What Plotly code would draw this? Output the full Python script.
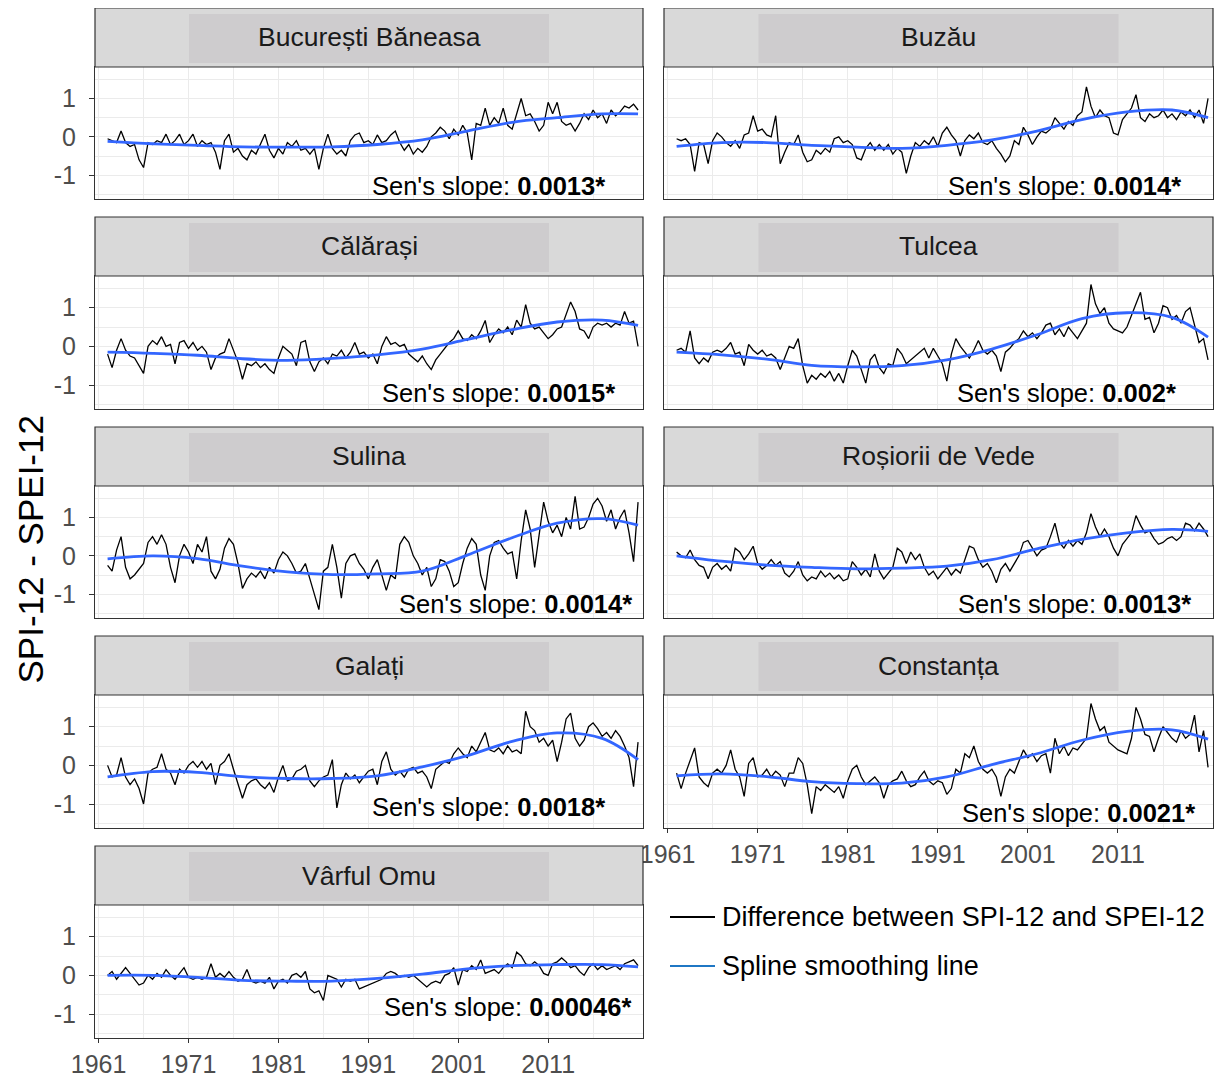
import numpy as np
import plotly.graph_objects as go

# the page puts the figure 8px in from the top-left corner
OFF = 8
W, H = 1225 - 2 * OFF, 1082 - OFF

stations = ["București Băneasa", "Buzău", "Călărași", "Tulcea", "Sulina",
            "Roșiorii de Vede", "Galați", "Constanța", "Vârful Omu"]
slopes = ["0.0013*", "0.0014*", "0.0015*", "0.002*", "0.0014*",
          "0.0013*", "0.0018*", "0.0021*", "0.00046*"]

# half-yearly readings of SPI-12 minus SPEI-12, Jan 1962 .. Jan 2021
years = 1962 + 0.5 * np.arange(119)
# knots of the spline smoothing line
knot_years = [1962, 1967, 1972, 1977, 1982, 1987, 1992, 1997, 2002, 2007, 2012, 2017, 2021]
tick_years = [1961, 1971, 1981, 1991, 2001, 2011]
minor_years = [1966, 1976, 1986, 1996, 2006, 2016]

diff_bucuresti = [
    -0.05, -0.1, -0.15, 0.15, -0.15, -0.25, -0.2, -0.6, -0.8, -0.15,
    -0.2, -0.1, -0.15, 0.07, -0.2, -0.1, 0.07, -0.2, -0.1, 0.07,
    -0.25, -0.1, -0.2, -0.15, -0.4, -0.85, -0.1, 0.07, -0.4, -0.3,
    -0.5, -0.6, -0.35, -0.45, -0.2, 0.07, -0.35, -0.55, -0.3, -0.45,
    -0.15, -0.25, -0.1, -0.35, -0.3, -0.45, -0.3, -0.85, -0.3, 0.07,
    -0.3, -0.45, -0.35, -0.5, -0.1, 0.05, 0.1, -0.15, -0.1, -0.2,
    0.05, -0.15, -0.1, 0.05, 0.15, -0.15, -0.35, -0.2, -0.45, -0.3,
    -0.4, -0.25, 0.0, 0.1, 0.25, 0.15, -0.05, 0.2, 0.05, 0.3,
    0.1, -0.6, 0.35, 0.3, 0.75, 0.3, 0.5, 0.35, 0.75, 0.3,
    0.2, 0.6, 1.0, 0.55, 0.6, 0.4, 0.15, 0.3, 0.9, 0.6,
    0.9, 0.4, 0.3, 0.35, 0.15, 0.35, 0.6, 0.45, 0.7, 0.5,
    0.6, 0.35, 0.7, 0.55, 0.65, 0.8, 0.75, 0.85, 0.7]
diff_buzau = [
    -0.05, -0.1, -0.05, -0.2, -0.9, -0.15, -0.2, -0.7, -0.1, 0.1,
    0.0, -0.15, -0.25, -0.1, -0.3, 0.05, 0.1, 0.55, 0.15, 0.2,
    0.05, 0.0, 0.55, -0.7, -0.4, -0.15, -0.2, 0.05, -0.4, -0.65,
    -0.6, -0.35, -0.45, -0.3, -0.4, -0.05, 0.0, -0.15, -0.1, -0.2,
    -0.55, -0.6, -0.3, -0.15, -0.35, -0.2, -0.35, -0.2, -0.45, -0.3,
    -0.4, -0.95, -0.5, -0.15, -0.25, -0.1, -0.2, 0.0, -0.25, 0.1,
    0.25, 0.05, -0.1, -0.5, -0.1, 0.05, -0.05, 0.1, -0.15, -0.2,
    -0.1, -0.3, -0.45, -0.65, -0.5, -0.1, -0.2, 0.25, 0.05, -0.2,
    0.0, 0.15, 0.1, 0.2, 0.5, 0.35, 0.2, 0.4, 0.3, 0.55,
    0.65, 1.3, 0.8, 0.5, 0.7, 0.55, 0.5, 0.1, 0.05, 0.45,
    0.6, 0.75, 1.1, 0.5, 0.4, 0.6, 0.5, 0.55, 0.7, 0.5,
    0.6, 0.45, 0.65, 0.55, 0.7, 0.5, 0.7, 0.35, 1.0]
diff_calarasi = [
    -0.2, -0.55, -0.1, 0.2, -0.1, -0.25, -0.3, -0.5, -0.7, 0.0,
    0.15, 0.05, 0.25, 0.0, 0.05, -0.45, 0.1, 0.15, -0.05, 0.1,
    -0.1, 0.0, -0.15, -0.6, -0.3, -0.2, -0.15, 0.2, -0.1, -0.4,
    -0.85, -0.45, -0.5, -0.4, -0.55, -0.45, -0.6, -0.7, -0.3, 0.0,
    -0.1, -0.2, -0.5, 0.1, 0.15, -0.4, -0.65, -0.4, -0.3, -0.45,
    -0.2, -0.25, -0.1, -0.3, -0.15, 0.1, -0.2, -0.15, -0.3, -0.2,
    -0.45, 0.0, 0.25, 0.05, 0.1, 0.0, 0.05, -0.2, -0.3, -0.4,
    -0.25, -0.45, -0.6, -0.35, -0.2, -0.05, 0.1, 0.2, 0.4, 0.2,
    0.15, 0.3, 0.2, 0.4, 0.67, 0.1, 0.3, 0.45, 0.35, 0.5,
    0.3, 0.68, 0.5, 1.08, 0.6, 0.45, 0.5, 0.35, 0.2, 0.3,
    0.45, 0.5, 0.8, 1.15, 0.9, 0.45, 0.4, 0.2, 0.5, 0.6,
    0.55, 0.6, 0.5, 0.6, 0.55, 0.9, 0.6, 0.65, 0.0]
diff_tulcea = [
    -0.1, -0.05, -0.15, 0.4, -0.3, -0.45, -0.3, -0.4, -0.15, -0.1,
    -0.15, -0.05, 0.1, -0.2, -0.15, -0.5, 0.05, -0.1, -0.2, -0.1,
    -0.25, -0.2, -0.3, -0.6, -0.3, 0.0, -0.05, 0.2, -0.5, -0.95,
    -0.75, -0.85, -0.7, -0.8, -0.65, -0.9, -0.7, -0.95, -0.5, -0.1,
    -0.25, -0.6, -0.95, -0.35, -0.2, -0.55, -0.7, -0.45, -0.5, -0.05,
    -0.2, -0.45, -0.35, -0.25, -0.15, -0.05, -0.3, -0.05, -0.25, -0.45,
    -0.9, -0.2, 0.2, 0.0, -0.15, -0.3, -0.1, 0.15, -0.1, -0.2,
    -0.1, -0.25, -0.65, -0.15, -0.05, 0.1, 0.2, 0.4, 0.25, 0.35,
    0.2, 0.35, 0.55, 0.6, 0.3, 0.45, 0.25, 0.5, 0.35, 0.2,
    0.4, 0.6, 1.6, 1.1, 0.85, 1.0, 0.6, 0.45, 0.4, 0.35,
    0.5, 0.8, 1.1, 1.4, 0.7, 0.75, 0.35, 0.6, 1.05, 1.0,
    0.7, 0.8, 0.6, 0.9, 1.0, 0.55, 0.1, 0.2, -0.35]
diff_sulina = [
    -0.25, -0.4, 0.15, 0.5, -0.3, -0.6, -0.5, -0.35, -0.2, 0.35,
    0.5, 0.3, 0.55, 0.3, -0.3, -0.7, 0.0, 0.3, 0.1, -0.2,
    0.3, 0.1, 0.5, -0.4, -0.6, -0.35, 0.2, 0.45, 0.3, -0.2,
    -0.85, -0.6, -0.45, -0.55, -0.4, -0.6, -0.3, -0.45, -0.1, 0.1,
    0.0, -0.2, -0.45, -0.4, -0.2, -0.6, -1.0, -1.4, -0.4, -0.3,
    0.3, -0.3, -1.1, -0.2, 0.0, 0.05, -0.2, -0.35, -0.6, -0.3,
    -0.1, -0.5, -0.9, -0.5, -0.6, 0.3, 0.5, 0.35, 0.0, -0.2,
    -0.5, -0.3, -0.8, -0.6, -0.1, -0.15, -0.4, -0.8, -0.7, -0.2,
    0.2, 0.45, 0.3, -0.5, -0.9, 0.0, 0.35, 0.4, 0.2, 0.05,
    0.1, -0.6, 0.4, 1.2, 0.7, -0.3, 0.6, 1.4, 0.9, 0.6,
    0.8, 0.5, 1.0, 0.7, 1.55, 0.7, 0.75, 1.0, 1.35, 1.5,
    1.3, 0.9, 1.2, 0.7, 1.0, 1.2, 0.6, -0.15, 1.4]
diff_rosiorii = [
    0.1, 0.0, -0.05, 0.15, -0.1, -0.25, -0.3, -0.6, -0.3, -0.2,
    -0.35, -0.25, -0.4, 0.2, 0.1, -0.1, 0.05, 0.25, -0.2, -0.35,
    -0.25, -0.1, -0.25, -0.15, -0.45, -0.55, -0.4, -0.15, -0.5, -0.65,
    -0.55, -0.6, -0.4, -0.55, -0.45, -0.6, -0.5, -0.65, -0.6, -0.15,
    -0.3, -0.5, -0.35, -0.55, 0.05, -0.4, -0.6, -0.45, -0.3, 0.2,
    0.1, -0.2, 0.1, -0.1, 0.05, -0.3, -0.5, -0.4, -0.6, -0.45,
    -0.3, -0.5, -0.35, -0.45, -0.1, 0.25, 0.2, -0.1, -0.3, -0.2,
    -0.4, -0.7, -0.35, -0.2, -0.4, -0.2, 0.0, 0.35, 0.4, 0.2,
    0.0, 0.15, 0.2, 0.5, 0.85, 0.35, 0.2, 0.4, 0.25, 0.4,
    0.3, 0.6, 1.1, 0.75, 0.5, 0.7, 0.5, 0.2, 0.0, 0.3,
    0.45, 0.6, 1.05, 0.8, 0.6, 0.65, 0.45, 0.3, 0.35, 0.45,
    0.5, 0.4, 0.5, 0.85, 0.8, 0.65, 0.85, 0.7, 0.5]
diff_galati = [
    0.0, -0.3, -0.25, 0.2, -0.3, -0.5, -0.35, -0.6, -1.0, -0.2,
    -0.1, -0.05, 0.3, -0.1, -0.2, -0.5, -0.1, -0.2, 0.0, 0.1,
    -0.05, 0.1, -0.1, 0.05, -0.5, 0.0, 0.1, 0.3, -0.1, -0.5,
    -0.85, -0.5, -0.4, -0.35, -0.5, -0.6, -0.45, -0.7, -0.3, 0.0,
    -0.4, -0.35, -0.15, -0.1, 0.0, -0.4, -0.55, -0.4, -0.3, -0.25,
    0.15, -1.1, -0.5, -0.2, -0.35, -0.25, -0.45, -0.3, -0.15, -0.1,
    -0.5, 0.1, 0.35, -0.1, -0.25, -0.15, -0.3, -0.1, -0.05, -0.2,
    -0.15, -0.3, -0.6, -0.1, 0.0, 0.1, 0.05, 0.3, 0.45, 0.3,
    0.2, 0.5, 0.35, 0.6, 0.85, 0.4, 0.35, 0.45, 0.3, 0.5,
    0.35, 0.4, 0.3, 1.4, 1.0, 0.9, 0.6, 0.7, 0.5, 0.65,
    0.1, 0.6, 1.2, 1.35, 0.7, 0.5, 0.65, 1.0, 1.1, 0.95,
    0.75, 0.85, 0.7, 0.9, 0.75, 0.5, 0.2, -0.55, 0.6]
diff_constanta = [
    -0.2, -0.6, -0.2, 0.1, 0.45, -0.3, -0.45, -0.55, -0.2, -0.1,
    -0.2, 0.0, 0.4, -0.1, -0.3, -0.8, 0.05, 0.2, -0.3, -0.25,
    -0.1, -0.3, -0.15, -0.25, -0.55, -0.2, -0.2, 0.2, 0.05, -0.5,
    -1.25, -0.55, -0.65, -0.5, -0.6, -0.7, -0.55, -0.85, -0.4, -0.1,
    0.0, -0.3, -0.5, -0.4, -0.3, -0.45, -0.85, -0.5, -0.4, -0.35,
    -0.15, -0.4, -0.55, -0.5, -0.3, -0.15, -0.4, -0.5, -0.4, -0.45,
    -0.75, -0.6, -0.1, -0.2, 0.3, 0.2, 0.5, 0.1, -0.1, -0.2,
    -0.1, -0.3, -0.8, -0.3, -0.1, -0.2, 0.1, 0.4, 0.2, 0.3,
    0.1, 0.25, 0.3, -0.2, 0.7, 0.3, 0.5, 0.25, 0.45, 0.4,
    0.55, 0.7, 1.6, 1.2, 0.9, 1.0, 0.6, 0.5, 0.4, 0.35,
    0.3, 0.7, 1.5, 1.2, 0.8, 0.75, 0.35, 0.7, 1.0, 0.85,
    0.7, 0.6, 0.9, 0.7, 0.8, 1.3, 0.35, 0.9, -0.05]
diff_omu = [
    0.0, 0.1, -0.1, 0.05, 0.2, 0.05, -0.1, -0.25, -0.2, 0.0,
    -0.1, 0.05, -0.05, 0.15, 0.0, -0.1, 0.05, 0.2, -0.05, -0.1,
    -0.05, -0.1, -0.05, 0.3, -0.05, 0.05, -0.05, 0.1, -0.05, -0.15,
    -0.1, 0.15, -0.15, -0.2, -0.15, -0.2, -0.05, -0.35, -0.15, -0.1,
    -0.2, 0.0, 0.05, -0.05, 0.1, -0.35, -0.45, -0.4, -0.65, 0.0,
    -0.05, -0.1, -0.3, -0.1, -0.15, -0.1, -0.35, -0.3, -0.25, -0.2,
    -0.15, -0.1, 0.05, 0.1, 0.05, -0.05, 0.0, -0.05, 0.0, -0.1,
    -0.2, -0.3, -0.2, -0.15, -0.2, 0.0, 0.05, 0.2, -0.25, 0.15,
    0.1, 0.25, 0.15, 0.4, 0.05, 0.1, 0.15, 0.05, 0.2, 0.3,
    0.2, 0.6, 0.5, 0.3, 0.25, 0.35, 0.25, 0.05, 0.0, 0.3,
    0.35, 0.45, 0.35, 0.2, 0.25, 0.1, 0.0, 0.2, 0.3, 0.15,
    0.25, 0.15, 0.2, 0.25, 0.15, 0.3, 0.35, 0.4, 0.25]

smooth_bucuresti = [-0.12, -0.18, -0.22, -0.26, -0.27, -0.26, -0.2, -0.08, 0.15, 0.38, 0.5, 0.6, 0.6]
smooth_buzau = [-0.25, -0.15, -0.15, -0.22, -0.27, -0.3, -0.22, -0.08, 0.15, 0.45, 0.65, 0.7, 0.5]
smooth_calarasi = [-0.15, -0.18, -0.23, -0.32, -0.36, -0.31, -0.22, -0.07, 0.18, 0.43, 0.63, 0.68, 0.54]
smooth_tulcea = [-0.15, -0.22, -0.33, -0.49, -0.53, -0.5, -0.35, -0.07, 0.3, 0.72, 0.87, 0.75, 0.24]
smooth_sulina = [-0.08, 0.0, -0.07, -0.27, -0.42, -0.49, -0.47, -0.4, 0.02, 0.47, 0.85, 0.97, 0.8]
smooth_rosiorii = [0.0, -0.14, -0.24, -0.3, -0.34, -0.32, -0.27, -0.1, 0.18, 0.43, 0.6, 0.69, 0.64]
smooth_galati = [-0.3, -0.16, -0.18, -0.29, -0.34, -0.34, -0.27, -0.04, 0.25, 0.62, 0.84, 0.7, 0.15]
smooth_constanta = [-0.27, -0.22, -0.29, -0.42, -0.47, -0.46, -0.3, 0.02, 0.3, 0.65, 0.88, 0.92, 0.68]
smooth_omu = [0.0, 0.0, -0.05, -0.13, -0.15, -0.15, -0.08, 0.03, 0.17, 0.25, 0.28, 0.28, 0.22]

diffs = [diff_bucuresti, diff_buzau, diff_calarasi, diff_tulcea, diff_sulina,
         diff_rosiorii, diff_galati, diff_constanta, diff_omu]
smooths = [smooth_bucuresti, smooth_buzau, smooth_calarasi, smooth_tulcea, smooth_sulina,
           smooth_rosiorii, smooth_galati, smooth_constanta, smooth_omu]

# panel geometry in page pixels
col_px = [(95, 643), (664, 1213)]
row_px = [(67, 199), (276, 409), (486, 618), (695, 828), (905, 1038)]
strip_h = 59
# right edge / centre of the Sen's slope label in each panel
sen_px = [(607, 186), (1183, 186), (617, 393), (1178, 393), (634, 604),
          (1193, 604), (607, 807), (1197, 813), (633, 1007)]

FONT = "Liberation Sans, Arial, sans-serif"
GRID = "#EBEBEB"
BORDER = "#333333"


def px(x):
    return (x - OFF) / W


def py(y):
    return 1 - (y - OFF) / H


fig = go.Figure()
layout = {}
shapes = []
annotations = []

for i, name in enumerate(stations):
    r, c = divmod(i, 2)
    x0, x1 = col_px[c]
    y0, y1 = row_px[r]
    n = "" if i == 0 else str(i + 1)

    fig.add_trace(go.Scatter(x=years, y=diffs[i], mode="lines",
                             line=dict(color="black", width=1.3),
                             xaxis="x" + n, yaxis="y" + n,
                             showlegend=False, hoverinfo="skip"))
    fig.add_trace(go.Scatter(x=knot_years, y=smooths[i], mode="lines",
                             line=dict(color="#3366FF", width=2.8, shape="spline", smoothing=1.0),
                             xaxis="x" + n, yaxis="y" + n,
                             showlegend=False, hoverinfo="skip"))

    bottom = (r == 4) or (r == 3 and c == 1)
    layout["xaxis" + n] = dict(
        domain=[px(x0), px(x1)], anchor="y" + n, range=[1960.6, 2021.55],
        tickvals=tick_years, ticktext=[str(t) for t in tick_years],
        showgrid=True, gridcolor=GRID, gridwidth=1.4,
        minor=dict(tickvals=minor_years, showgrid=True, gridcolor=GRID, gridwidth=0.8),
        showline=True, mirror=True, linecolor=BORDER, linewidth=1.2, zeroline=False,
        ticks="outside" if bottom else "", ticklen=4, tickcolor=BORDER,
        showticklabels=bottom, tickfont=dict(family=FONT, size=25, color="#4D4D4D"))
    layout["yaxis" + n] = dict(
        domain=[py(y1), py(y0)], anchor="x" + n, range=[-1.62, 1.82],
        tickvals=[-1, 0, 1], ticktext=["-1", "0", "1"],
        showgrid=True, gridcolor=GRID, gridwidth=1.4,
        minor=dict(tickvals=[-1.5, -0.5, 0.5, 1.5], showgrid=True, gridcolor=GRID, gridwidth=0.8),
        showline=True, mirror=True, linecolor=BORDER, linewidth=1.2, zeroline=False,
        ticks="outside" if c == 0 else "", ticklen=5, tickcolor=BORDER,
        showticklabels=(c == 0), ticklabelstandoff=8,
        tickfont=dict(family=FONT, size=25, color="#4D4D4D"))

    # facet strip
    cx = (x0 + x1) / 2
    shapes.append(dict(type="rect", xref="paper", yref="paper",
                       x0=px(x0), x1=px(x1), y0=py(y0), y1=py(y0 - strip_h),
                       fillcolor="#D9D9D9", line=dict(color=BORDER, width=1.2), layer="above"))
    shapes.append(dict(type="rect", xref="paper", yref="paper",
                       x0=px(cx - 180), x1=px(cx + 180), y0=py(y0 - 4), y1=py(y0 - strip_h + 6),
                       fillcolor="#CECCCE", line=dict(width=0), layer="above"))
    annotations.append(dict(text=name, xref="paper", yref="paper", x=px(cx),
                            y=py(y0 - strip_h / 2), xanchor="center", yanchor="middle",
                            showarrow=False, font=dict(family=FONT, size=26.5, color="#1A1A1A")))

    sx, sy = sen_px[i]
    annotations.append(dict(text="Sen's slope: <b>" + slopes[i] + "</b>", xref="paper", yref="paper",
                            x=px(sx), y=py(sy), xanchor="right", yanchor="middle",
                            showarrow=False, font=dict(family=FONT, size=25.5, color="black")))

# y-axis title, its box starts at the figure's left edge
annotations.append(dict(text="SPI-12 - SPEI-12", xref="paper", yref="paper",
                        x=0, y=py(550), textangle=-90, xanchor="left", yanchor="middle",
                        showarrow=False, font=dict(family=FONT, size=35, color="black")))

# legend
legend_items = [("Difference between SPI-12 and SPEI-12", "black", 917),
                ("Spline smoothing line", "#1F77C4", 966)]
for label, color, ly in legend_items:
    shapes.append(dict(type="line", xref="paper", yref="paper",
                       x0=px(670), x1=px(715), y0=py(ly), y1=py(ly),
                       line=dict(color=color, width=2.2)))
    annotations.append(dict(text=label, xref="paper", yref="paper", x=px(720), y=py(ly),
                            xanchor="left", yanchor="middle", showarrow=False,
                            font=dict(family=FONT, size=27, color="black")))

fig.update_layout(
    width=W, height=H, template="none",
    margin=dict(l=0, r=0, t=0, b=0),
    paper_bgcolor="white", plot_bgcolor="white",
    font=dict(family=FONT),
    shapes=shapes, annotations=annotations,
    showlegend=False,
    **layout)

fig.write_html("out.html")
